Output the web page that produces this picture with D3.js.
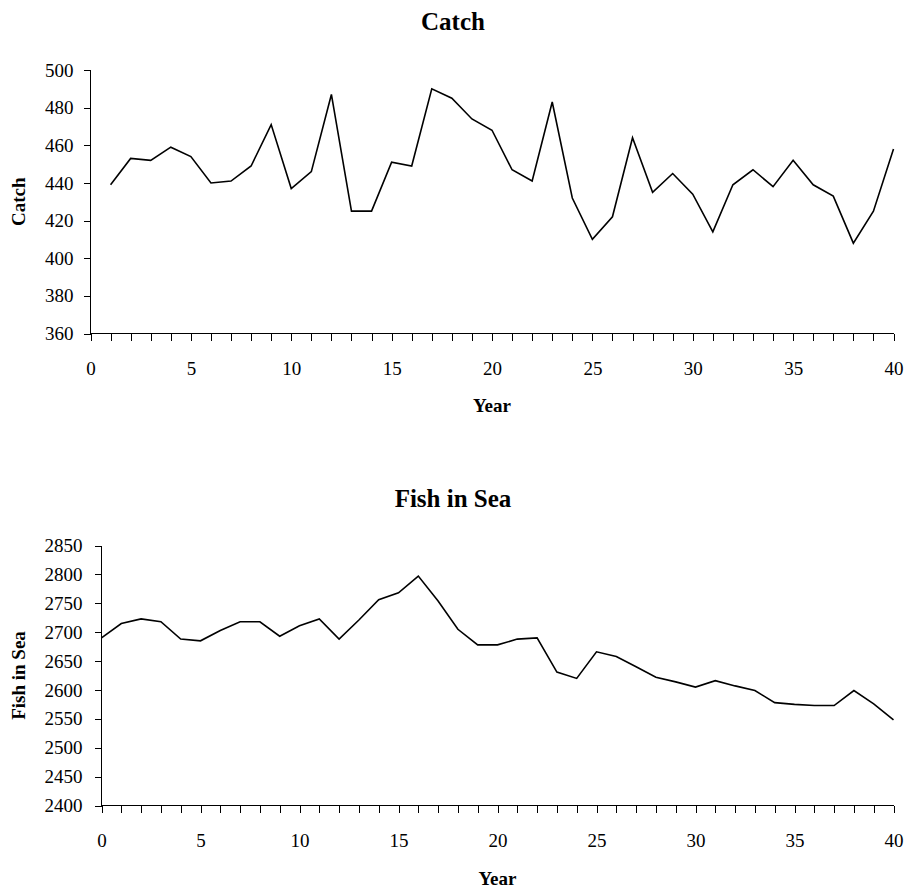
<html>
<head>
  <title>Catch and Fish in Sea</title>
  <script src='https://cdn.jsdelivr.net/npm/d3@7/dist/d3.min.js'></script>
  <style media="screen">
    body { margin: 0; background: #fff; }
    svg text { font-family: "Liberation Serif", "Times New Roman", serif; fill: #000; }
    .tick-label { font-size: 19px; }
    .axis-title { font-size: 19px; font-weight: bold; }
    .chart-title { font-size: 25px; font-weight: bold; }
  </style>
</head>
<body>
<script>

  // data
  var catchYears = [1,2,3,4,5,6,7,8,9,10,11,12,13,14,15,16,17,18,19,20,
                    21,22,23,24,25,26,27,28,29,30,31,32,33,34,35,36,37,38,39,40];
  var catchValues = [439, 453, 452, 459, 454, 440, 441, 449, 471, 437,
                     446, 487, 425, 425, 451, 449, 490, 485, 474, 468,
                     447, 441, 483, 432, 410, 422, 464, 435, 445, 434,
                     414, 439, 447, 438, 452, 439, 433, 408, 425, 458];

  var fishYears = [0,1,2,3,4,5,6,7,8,9,10,11,12,13,14,15,16,17,18,19,20,
                   21,22,23,24,25,26,27,28,29,30,31,32,33,34,35,36,37,38,39,40];
  var fishValues = [2690, 2715, 2723, 2718, 2688, 2685, 2703, 2718, 2718, 2693,
                    2711, 2723, 2688, 2721, 2756, 2768, 2797, 2754, 2705, 2678,
                    2678, 2688, 2690, 2631, 2620, 2666, 2658, 2640, 2622, 2614,
                    2605, 2616, 2607, 2599, 2578, 2575, 2573, 2573, 2599, 2576, 2548];

  var catchTicks = [360, 380, 400, 420, 440, 460, 480, 500];
  var fishTicks = [2400, 2450, 2500, 2550, 2600, 2650, 2700, 2750, 2800, 2850];
  var yearLabels = [0, 5, 10, 15, 20, 25, 30, 35, 40];
  var yearMinor = [0,1,2,3,4,5,6,7,8,9,10,11,12,13,14,15,16,17,18,19,20,
                   21,22,23,24,25,26,27,28,29,30,31,32,33,34,35,36,37,38,39,40];

  var width = 906;
  var height = 890;
  var serif = '"Liberation Serif", "Times New Roman", serif';

  var svg = d3.select('body')
    .append('svg')
    .attr('width', width)
    .attr('height', height);

  //one panel = title, axes, line
  function drawPanel(p) {
    var g = svg.append('g');

    var x = d3.scaleLinear().domain([0, 40]).range([p.left, p.right]);
    var y = d3.scaleLinear().domain(p.domain).range([p.bottom, p.top]);

    g.append('text')
      .attr('class', 'chart-title')
      .attr('x', p.titleX)
      .attr('y', p.titleY)
      .attr('text-anchor', 'middle')
      .text(p.title);

    // y axis, ticks pointing left
    var yAxis = g.append('g')
      .attr('transform', 'translate(' + p.left + ',0)')
      .call(d3.axisLeft(y).tickValues(p.ticks).tickSize(7).tickPadding(p.yPad).tickFormat(d3.format('d')));

    // x axis, a tick every year, labels every 5
    var xAxis = g.append('g')
      .attr('transform', 'translate(0,' + p.bottom + ')')
      .call(d3.axisBottom(x).tickValues(yearMinor).tickSize(7).tickPadding(21)
        .tickFormat(function(d) { return yearLabels.indexOf(d) >= 0 ? d : ''; }));

    [yAxis, xAxis].forEach(function(a) {
      a.attr('font-size', 19).attr('font-family', serif);
      a.selectAll('path').attr('stroke', '#000').attr('stroke-width', 1).attr('shape-rendering', 'crispEdges');
      a.selectAll('line').attr('stroke', '#000').attr('stroke-width', 1).attr('shape-rendering', 'crispEdges');
      a.selectAll('text').attr('class', 'tick-label').attr('font-family', serif).attr('font-size', 19);
    });
    // plain domain lines, no end caps
    yAxis.select('path').attr('d', 'M0,' + p.bottom + 'V' + p.top);
    xAxis.select('path').attr('d', 'M' + p.left + ',0H' + p.right);

    g.append('text')
      .attr('class', 'axis-title')
      .attr('x', (p.left + p.right) / 2)
      .attr('y', p.xTitleY)
      .attr('text-anchor', 'middle')
      .text('Year');

    g.append('text')
      .attr('class', 'axis-title')
      .attr('transform', 'translate(' + p.yTitleX + ',' + ((p.top + p.bottom) / 2) + ') rotate(-90)')
      .attr('text-anchor', 'middle')
      .text(p.title);

    var line = d3.line()
      .x(function(d) { return x(d[0]); })
      .y(function(d) { return y(d[1]); });

    g.append('path')
      .datum(d3.zip(p.xs, p.ys))
      .attr('fill', 'none')
      .attr('stroke', '#000')
      .attr('stroke-width', 1.6)
      .attr('stroke-linejoin', 'miter')
      .attr('d', line);
  }

  drawPanel({
    title: 'Catch', xs: catchYears, ys: catchValues,
    domain: [360, 500], ticks: catchTicks,
    left: 90.5, right: 893.5, top: 70, bottom: 333.5,
    titleX: 453, titleY: 30, xTitleY: 412, yTitleX: 25, yPad: 10
  });

  drawPanel({
    title: 'Fish in Sea', xs: fishYears, ys: fishValues,
    domain: [2400, 2850], ticks: fishTicks,
    left: 101.5, right: 893.5, top: 545.5, bottom: 805.5,
    titleX: 453, titleY: 507, xTitleY: 885, yTitleX: 25, yPad: 12
  });

</script>
</body>
</html>
